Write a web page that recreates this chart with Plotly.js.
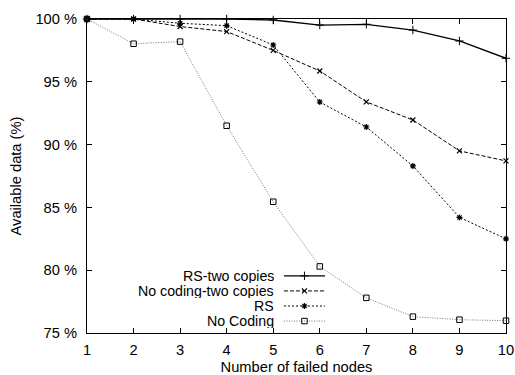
<!DOCTYPE html>
<html>
<head>
<meta charset="utf-8">
<script src="https://cdn.plot.ly/plotly-3.0.1.min.js"></script>
<style>html,body{margin:0;padding:0;background:#fff}#chart{width:515px;height:375px}</style>
</head>
<body>
<div id="chart"></div>
<script>
const failedNodes = [1, 2, 3, 4, 5, 6, 7, 8, 9, 10];
const rsTwoCopies = [100, 100, 100, 100, 99.92, 99.52, 99.58, 99.12, 98.25, 96.87];
const noCodingTwoCopies = [100, 100, 99.4, 99.0, 97.5, 95.86, 93.4, 91.96, 89.5, 88.7];
const rs = [100, 100, 99.66, 99.47, 97.93, 93.39, 91.4, 88.3, 84.2, 82.5];
const noCoding = [100, 98.03, 98.2, 91.5, 85.45, 80.3, 77.8, 76.3, 76.06, 75.98];
const seriesNames = ['RS-two copies', 'No coding-two copies', 'RS', 'No Coding'];
const yTicks = [75, 80, 85, 90, 95, 100];
const yTickText = yTicks.map(v => v + ' %');

const styles = [
  {line: {color: '#000', width: 1.3, dash: 'solid'}, marker: {symbol: 'cross-thin', size: 6, color: '#000', line: {color: '#000', width: 1}}},
  {line: {color: '#000', width: 1, dash: '4px,2px'}, marker: {symbol: 'x-thin', size: 5, color: '#000', line: {color: '#000', width: 1.2}}},
  {line: {color: '#000', width: 1, dash: '2px,2px'}, marker: {symbol: 'asterisk-open', size: 5, color: '#000', line: {color: '#000', width: 1.2}}},
  {line: {color: '#777', width: 1, dash: '1px,1.5px'}, marker: {symbol: 'square-open', size: 5.5, color: '#000', line: {color: '#000', width: 1}}}
];
const data = [rsTwoCopies, noCodingTwoCopies, rs, noCoding];

const traces = data.map((ys, i) => ({
  x: failedNodes, y: ys, type: 'scatter', mode: 'lines+markers', name: seriesNames[i],
  line: styles[i].line, marker: styles[i].marker, showlegend: false, cliponaxis: false
}));

// legend keys (drawn in a hidden overlay axis)
const keyRowsY = [0.182, 0.134, 0.086, 0.038];
const keyX0 = 0.47, keyX1 = 0.568, keyMid = 0.519;
keyRowsY.forEach((ky, i) => {
  traces.push({x: [keyX0, keyX1], y: [ky, ky], xaxis: 'x2', yaxis: 'y2', type: 'scatter', mode: 'lines',
    line: styles[i].line, showlegend: false, hoverinfo: 'skip'});
  traces.push({x: [keyMid], y: [ky], xaxis: 'x2', yaxis: 'y2', type: 'scatter', mode: 'markers',
    marker: styles[i].marker, showlegend: false, hoverinfo: 'skip'});
});

const font = {family: 'Liberation Sans, Arial, sans-serif', size: 14.7, color: '#000'};
const legendFont = {family: 'Liberation Sans, Arial, sans-serif', size: 14.2, color: '#000'};
const annotations = seriesNames.map((n, i) => ({
  text: n, xref: 'paper', yref: 'paper', x: 0.4487, y: keyRowsY[i], xanchor: 'right', yanchor: 'middle',
  showarrow: false, height: 14, borderpad: 0, font: legendFont
}));

const layout = {
  width: 515, height: 375,
  margin: {l: 87, r: 9, t: 19, b: 42},
  paper_bgcolor: '#fff', plot_bgcolor: '#fff',
  font: font,
  showlegend: false,
  xaxis: {
    range: [1, 10], tickvals: failedNodes, ticks: 'inside', ticklen: 5, tickcolor: '#000', tickwidth: 1,
    showline: true, linecolor: '#000', linewidth: 1, mirror: 'ticks', showgrid: false, zeroline: false,
    ticklabelstandoff: 3,
    title: {text: 'Number of failed nodes', font: font, standoff: 6}, tickfont: font
  },
  yaxis: {
    range: [75, 100], tickvals: yTicks, ticktext: yTickText, ticks: 'inside', ticklen: 5, tickcolor: '#000', tickwidth: 1,
    showline: true, linecolor: '#000', linewidth: 1, mirror: 'ticks', showgrid: false, zeroline: false,
    ticklabelstandoff: 6,
    title: {text: 'Available data (%)', font: font, standoff: 10}, tickfont: font
  },
  xaxis2: {range: [0, 1], overlaying: 'x', visible: false, fixedrange: true},
  yaxis2: {range: [0, 1], overlaying: 'y', visible: false, fixedrange: true},
  annotations: annotations
};

Plotly.newPlot('chart', traces, layout, {displayModeBar: false, staticPlot: true});
</script>
</body>
</html>
